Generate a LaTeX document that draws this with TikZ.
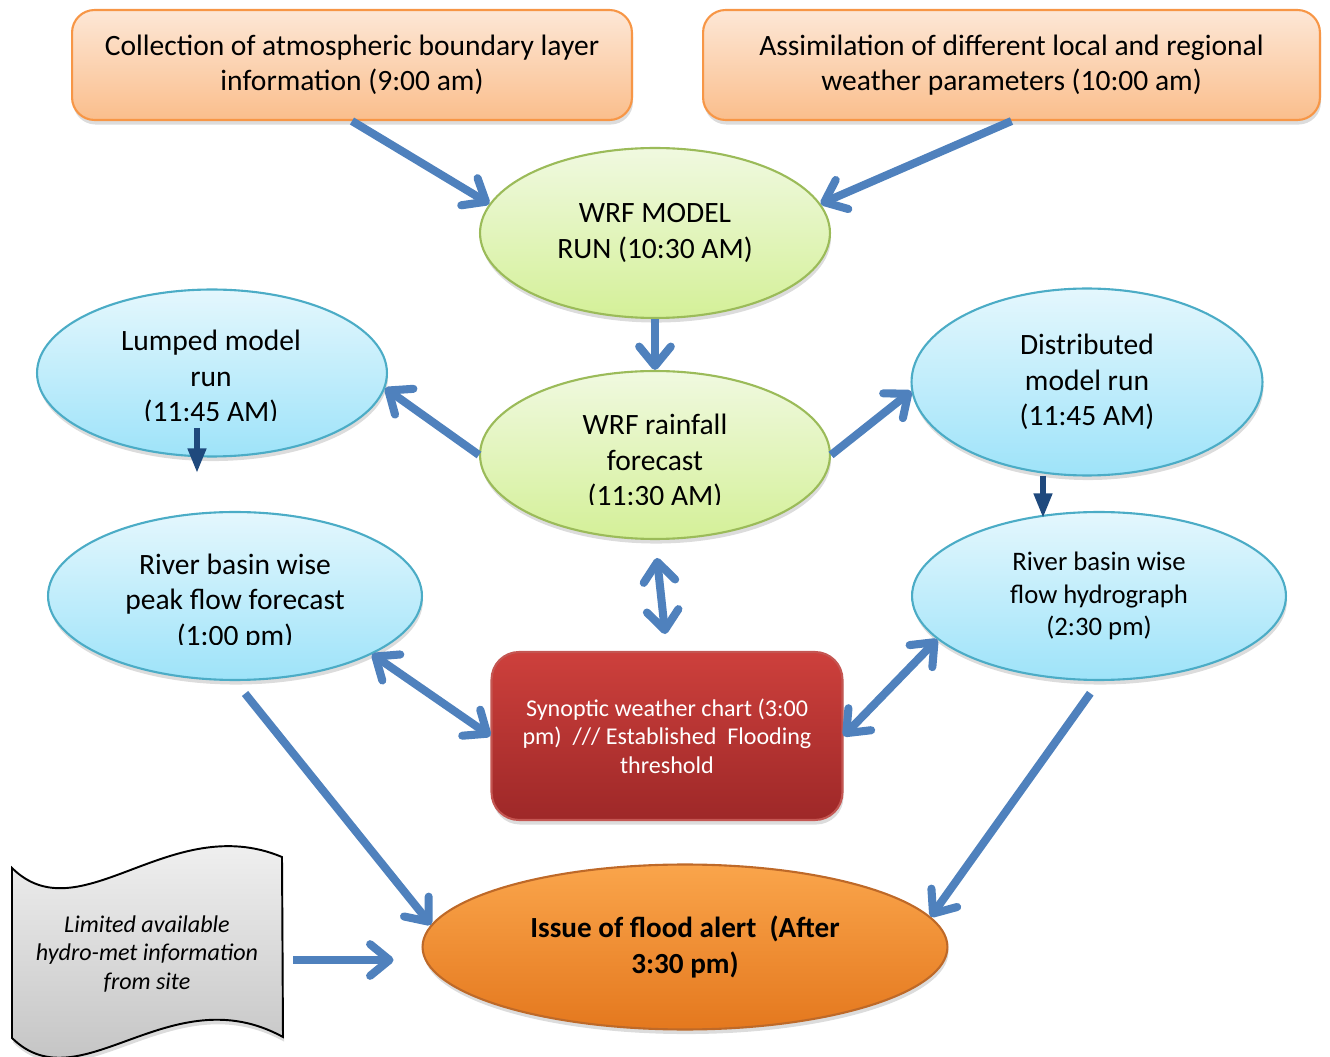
\documentclass[tikz,border=0pt]{standalone}
\usepackage{fontspec}
\setmainfont{Carlito}
\usetikzlibrary{shapes.geometric,arrows.meta,shadows}

\definecolor{boxtop}{RGB}{253,231,214}
\definecolor{boxbot}{RGB}{250,190,140}
\definecolor{boxline}{RGB}{247,150,70}
\definecolor{greentop}{RGB}{240,249,224}
\definecolor{greenbot}{RGB}{212,240,152}
\definecolor{greenline}{RGB}{155,187,89}
\definecolor{bluetop}{RGB}{228,247,253}
\definecolor{bluebot}{RGB}{158,227,249}
\definecolor{blueline}{RGB}{75,172,198}
\definecolor{redtop}{RGB}{205,64,60}
\definecolor{redbot}{RGB}{158,40,40}
\definecolor{redline}{RGB}{196,86,82}
\definecolor{alerttop}{RGB}{250,165,75}
\definecolor{alertbot}{RGB}{228,120,30}
\definecolor{alertline}{RGB}{190,105,40}
\definecolor{papertop}{RGB}{246,246,246}
\definecolor{paperbot}{RGB}{188,188,188}
\definecolor{arrblue}{RGB}{79,129,189}
\definecolor{arrdark}{RGB}{31,73,125}

\newcommand\bigtxt{\fontsize{16.8}{20.2}\selectfont}
\newcommand\midtxt{\fontsize{15.2}{18.3}\selectfont}
\newcommand\redtxt{\fontsize{13.7}{16.3}\selectfont}
\newcommand\alerttxt{\bfseries\fontsize{16.6}{21}\selectfont}
\newcommand\papertxt{\itshape\fontsize{13.7}{16.4}\selectfont}

\begin{document}
\begin{tikzpicture}[x=0.02cm,y=-0.02cm,
  every node/.style={inner sep=0pt, align=center},
  softshadow/.style={drop shadow={opacity=0.28, shadow xshift=0.6pt, shadow yshift=-2.6pt}},
  orangebox/.style={rectangle, rounded corners=0.45cm, draw=boxline, line width=1.2pt,
    top color=boxtop, bottom color=boxbot, minimum height=2.2cm, font=\bigtxt, softshadow},
  greenell/.style={ellipse, draw=greenline, line width=1.2pt, top color=greentop,
    bottom color=greenbot, minimum width=7cm, minimum height=3.4cm, font=\bigtxt, softshadow},
  blueell/.style={ellipse, draw=blueline, line width=1.2pt, top color=bluetop,
    bottom color=bluebot, font=\bigtxt, softshadow},
  redbox/.style={rectangle, rounded corners=0.55cm, draw=redline, line width=1.2pt,
    top color=redtop, bottom color=redbot, minimum width=7.02cm, minimum height=3.36cm,
    text=white, font=\redtxt, softshadow},
  alertell/.style={ellipse, draw=alertline, line width=1.2pt, top color=alerttop,
    bottom color=alertbot, minimum width=10.5cm, minimum height=3.3cm, font=\alerttxt, softshadow},
  arr/.style={draw=arrblue, line width=4.6pt, -{Straight Barb[length=11pt,width=18pt,round]}},
  arrtwo/.style={draw=arrblue, line width=4.6pt,
    {Straight Barb[length=11pt,width=18pt,round]}-{Straight Barb[length=11pt,width=18pt,round]}},
  darr/.style={draw=arrdark, line width=3.2pt, -{Triangle[length=14pt,width=10pt]}}]
\useasboundingbox (0,0) rectangle (1330,1057);

% top inputs
\node[orangebox, minimum width=11.2cm] (collect) at (352,65) {Collection of atmospheric boundary layer\\information (9:00 am)};
\node[orangebox, minimum width=12.34cm] (assim) at (1011.5,65) {Assimilation of different local and regional\\weather parameters (10:00 am)};

% WRF
\node[greenell] (wrfrun) at (655,233) {WRF MODEL\\RUN (10:30 AM)};
\node[greenell, minimum height=3.36cm] (rain) at (655,455) {};
\begin{scope}
\clip (480,380) rectangle (830,505);
\node[font=\bigtxt] (raintxt) at (655,462) {WRF rainfall\\forecast\\(11:30 AM)};
\end{scope}

% hydrological models
\node[blueell, minimum width=7cm, minimum height=3.34cm] (lump) at (212,373) {};
\begin{scope}
\clip (37,300) rectangle (387,421);
\node[font=\bigtxt] (lumptxt) at (211,378) {Lumped model\\run\\(11:45 AM)};
\end{scope}
\node[blueell, minimum width=7.02cm, minimum height=3.74cm] (dist) at (1087,382) {Distributed\\model run\\(11:45 AM)};
\node[blueell, minimum width=7.48cm, minimum height=3.36cm] (peak) at (235,596) {};
\begin{scope}
\clip (48,520) rectangle (422,645);
\node[font=\bigtxt] (peaktxt) at (235,602) {River basin wise\\peak flow forecast\\(1:00 pm)};
\end{scope}
\node[blueell, minimum width=7.48cm, minimum height=3.36cm, font=\midtxt] (hydro) at (1099,596) {River basin wise\\flow hydrograph\\(2:30 pm)};

% synoptic chart and alert
\node[redbox] (synop) at (667,736) {Synoptic weather chart (3:00\\pm)~~/// Established~~Flooding\\threshold};
\node[alertell] (alert) at (685,947) {Issue of flood alert~~(After\\3:30 pm)};

% site information
\draw[line width=1.1pt, top color=papertop, bottom color=paperbot, softshadow]
  (12,868) .. controls (80,935) and (170,810) .. (282,857) -- (283,1037)
  .. controls (170,975) and (80,1105) .. (12,1038) -- cycle;
\node[font=\papertxt] (limited) at (147,954) {Limited available\\hydro-met information\\from site};
\coordinate (siteout) at (293,960);

% connectors
\draw[arr] (collect.south) -- (wrfrun.170);
\draw[arr] (assim.south) -- (wrfrun.10);
\draw[arr] (wrfrun) -- (rain);
\draw[arr] (rain.west) -- (lump.-5);
\draw[arr] (rain.east) -- (dist.183);
\draw[arrtwo, shorten <=0.36cm, shorten >=0.34cm] (rain.south) -- (synop.north);
\draw[arrtwo] (peak.-23) -- (synop.west);
\draw[arrtwo] (synop.east) -- (hydro.195);
\draw[arr, shorten <=0.32cm] (peak.south) -- (alert.175);
\draw[arr, shorten <=0.3cm] (hydro.south) -- (alert.7);
\draw[arr, shorten >=0.56cm] (siteout) -- (alert.west |- siteout);
\coordinate (lumpfoot) at (197,428);
\draw[darr] (lumpfoot) -- ++(0,45);
\coordinate (distfoot) at (1043,476);
\draw[darr] (distfoot) -- ++(0,42);
\end{tikzpicture}
\end{document}
